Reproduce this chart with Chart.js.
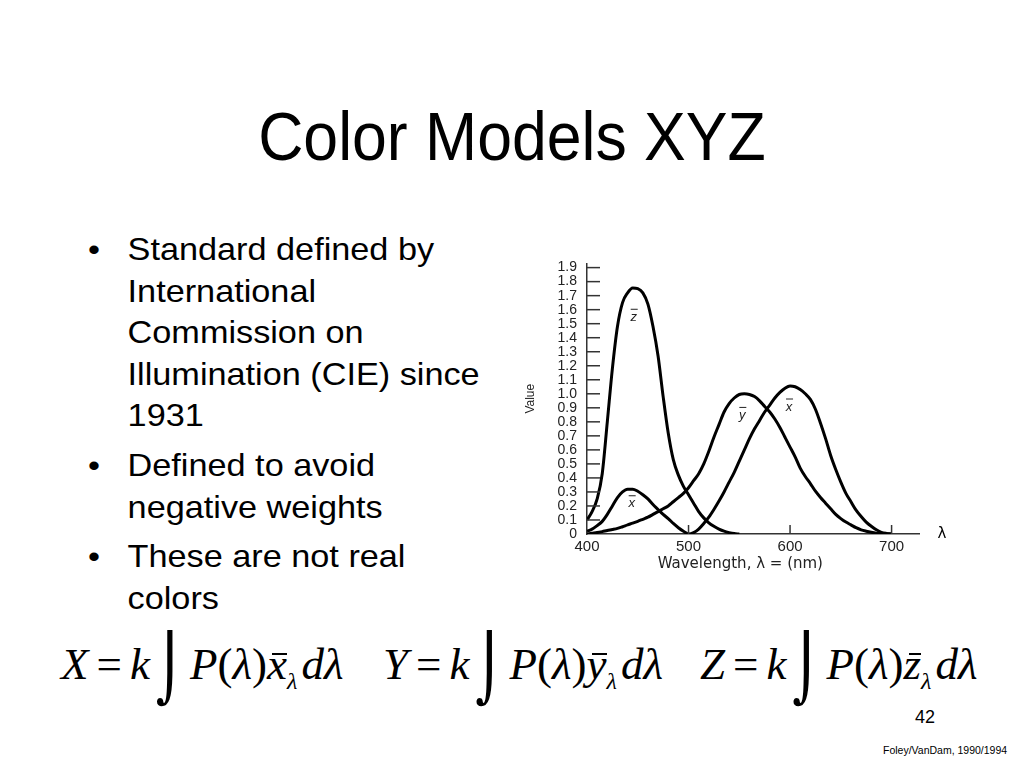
<!DOCTYPE html>
<html>
<head>
<meta charset="utf-8">
<title>Color Models XYZ</title>
<script src="https://cdn.jsdelivr.net/npm/chart.js"></script>
<style>
  body { margin: 0; width: 1024px; height: 768px; background: #fff; position: relative; overflow: hidden;
         font-family: "Liberation Sans", Arial, sans-serif; color: #000; }
  .title { position: absolute; left: 0; top: 102px; width: 1024px; text-align: center;
           font-size: 68px; line-height: 68px; transform: scaleX(0.92); }
  .bullet { position: absolute; left: 88px; font-size: 32px; line-height: 41.5px; white-space: nowrap;
            transform: scaleX(1.07); transform-origin: left top; }
  .bullet .dot { position: absolute; left: 0; top: 0; }
  .bullet .txt { margin-left: 37px; }
  .eq { position: absolute; top: 634px; font-family: "Liberation Serif", "Times New Roman", serif;
        font-size: 45px; line-height: 60px; white-space: nowrap; }
  .eq i { font-style: italic; }
  .eq .op { margin: 0 8px; }
  .eq .int { display: inline-block; font-family: "DejaVu Sans", sans-serif; font-size: 54px;
             transform: scaleY(1.2); margin: 0 6px 0 6px; vertical-align: -8px; }
  .eq .bar { position: relative; font-style: italic; }
  .eq .bar::before { content: ''; position: absolute; left: 5px; right: 0; top: 14px; border-top: 2px solid #000; }
  .eq sub { font-size: 24px; font-style: italic; vertical-align: -10px; margin-right: 4px; }
  .page { position: absolute; left: 915px; top: 707px; font-size: 18px; }
  .credit { position: absolute; left: 883px; top: 744px; font-size: 10.5px; }
  #wrap { position: absolute; left: 515px; top: 245px; width: 445px; height: 340px; }
</style>
</head>
<body>
<div class="title">Color Models XYZ</div>

<div class="bullet" style="top:229px"><span class="dot">•</span><div class="txt">Standard defined by<br>International<br>Commission on<br>Illumination (CIE) since<br>1931</div></div>
<div class="bullet" style="top:445px"><span class="dot">•</span><div class="txt">Defined to avoid<br>negative weights</div></div>
<div class="bullet" style="top:536px"><span class="dot">•</span><div class="txt">These are not real<br>colors</div></div>

<div class="eq" style="left:61px"><i>X</i><span class="op">=</span><i>k</i><span class="int">⌡</span><i>P</i>(<i>λ</i>)<span class="bar">x</span><sub>λ</sub><i>d</i><i>λ</i></div>
<div class="eq" style="left:383px"><i>Y</i><span class="op">=</span><i>k</i><span class="int">⌡</span><i>P</i>(<i>λ</i>)<span class="bar">y</span><sub>λ</sub><i>d</i><i>λ</i></div>
<div class="eq" style="left:700px"><i>Z</i><span class="op">=</span><i>k</i><span class="int">⌡</span><i>P</i>(<i>λ</i>)<span class="bar">z</span><sub>λ</sub><i>d</i><i>λ</i></div>

<div class="page">42</div>
<div class="credit">Foley/VanDam, 1990/1994</div>

<div id="wrap"><canvas id="chart"></canvas></div>

<script>
// wavelength samples (nm), 5 nm apart
const wavelengths = [
  400, 405, 410, 415, 420, 425, 430, 435, 440, 445, 450, 455, 460, 465, 470, 475, 480, 485, 490, 495,
  500, 505, 510, 515, 520, 525, 530, 535, 540, 545, 550, 555, 560, 565, 570, 575, 580, 585, 590, 595,
  600, 605, 610, 615, 620, 625, 630, 635, 640, 645, 650, 655, 660, 665, 670, 675, 680, 685, 690, 695, 700
];

const xBar = [
  0.02, 0.035, 0.06, 0.09, 0.14, 0.20, 0.26, 0.30, 0.32, 0.32, 0.305, 0.28, 0.25, 0.21, 0.175, 0.14, 0.11, 0.075, 0.045, 0.02,
  0, 0.01, 0.035, 0.075, 0.12, 0.175, 0.235, 0.30, 0.37, 0.44, 0.52, 0.60, 0.68, 0.75, 0.81, 0.87, 0.92, 0.97, 1.01, 1.04,
  1.056, 1.05, 1.03, 1.0, 0.96, 0.89, 0.79, 0.68, 0.56, 0.46, 0.37, 0.29, 0.23, 0.17, 0.125, 0.085, 0.055, 0.03, 0.012, 0.004, 0
];

const yBar = [
  0, 0.005, 0.01, 0.017, 0.025, 0.032, 0.04, 0.052, 0.065, 0.077, 0.09, 0.105, 0.12, 0.14, 0.16, 0.18, 0.20, 0.23, 0.26, 0.29,
  0.33, 0.38, 0.43, 0.50, 0.59, 0.69, 0.78, 0.87, 0.93, 0.97, 0.995, 1.0, 0.995, 0.98, 0.95, 0.91, 0.87, 0.82, 0.76, 0.69,
  0.62, 0.55, 0.47, 0.41, 0.36, 0.305, 0.26, 0.22, 0.18, 0.14, 0.11, 0.085, 0.065, 0.045, 0.03, 0.02, 0.012, 0.006, 0.003, 0.001, 0
];

// z stops at about 550 nm
const zBar = [
  0.10, 0.16, 0.25, 0.43, 0.80, 1.18, 1.48, 1.65, 1.72, 1.755, 1.75, 1.72, 1.64, 1.48, 1.27, 0.98, 0.72, 0.53, 0.42, 0.34,
  0.28, 0.22, 0.16, 0.115, 0.08, 0.055, 0.035, 0.02, 0.01, 0.003, 0, null, null, null, null, null, null, null, null, null,
  null, null, null, null, null, null, null, null, null, null, null, null, null, null, null, null, null, null, null, null, null
];

const xTickValues = [400, 500, 600, 700];

const toPoints = (vals) =>
  wavelengths.map((w, i) => ({ x: w, y: vals[i] })).filter((p) => p.y !== null);

const curveStyle = {
  borderColor: '#000',
  borderWidth: 3,
  pointRadius: 0,
  fill: false,
  cubicInterpolationMode: 'monotone',
};

// little tick marks drawn inside the plot, the curve names, the lambda and the x title
const slideMarks = {
  id: 'slideMarks',
  afterDraw(chart) {
    const { ctx, chartArea } = chart;
    const xs = chart.scales.x;
    const ys = chart.scales.y;
    ctx.save();
    ctx.strokeStyle = '#333';
    ctx.lineWidth = 1.5;
    ys.ticks.forEach((t) => {
      if (t.value === 0) return;
      const py = ys.getPixelForValue(t.value);
      ctx.beginPath();
      ctx.moveTo(chartArea.left, py);
      ctx.lineTo(chartArea.left + 13, py);
      ctx.stroke();
    });
    xTickValues.slice(1).forEach((v) => {
      const px = xs.getPixelForValue(v);
      ctx.beginPath();
      ctx.moveTo(px, chartArea.bottom);
      ctx.lineTo(px, chartArea.bottom - 9);
      ctx.stroke();
    });

    const names = [
      ['z', 446, 1.56],
      ['x', 444, 0.23],
      ['y', 553, 0.86],
      ['x', 599, 0.92],
    ];
    ctx.fillStyle = '#222';
    ctx.strokeStyle = '#222';
    ctx.lineWidth = 1;
    ctx.font = 'italic 13px "Liberation Sans", Arial';
    ctx.textAlign = 'center';
    ctx.textBaseline = 'middle';
    names.forEach(([t, w, v]) => {
      const px = xs.getPixelForValue(w);
      const py = ys.getPixelForValue(v);
      ctx.fillText(t, px, py + 2);
      ctx.beginPath();
      ctx.moveTo(px - 3, py - 6);
      ctx.lineTo(px + 4, py - 6);
      ctx.stroke();
    });

    ctx.fillStyle = '#000';
    ctx.font = '15px "DejaVu Sans", sans-serif';
    ctx.fillText('λ', chartArea.right + 23, ys.getPixelForValue(0));
    ctx.fillStyle = '#222';
    ctx.fillText('Wavelength, λ = (nm)', xs.getPixelForValue(551), chartArea.bottom + 30);
    ctx.restore();
  },
};

new Chart(document.getElementById('chart'), {
  type: 'line',
  data: {
    datasets: [
      { label: 'x', data: toPoints(xBar), ...curveStyle },
      { label: 'y', data: toPoints(yBar), ...curveStyle },
      { label: 'z', data: toPoints(zBar), ...curveStyle },
    ],
  },
  options: {
    responsive: true,
    maintainAspectRatio: false,
    animation: false,
    layout: { padding: { top: 10, right: 41, left: 0, bottom: 0 } },
    plugins: { legend: { display: false }, tooltip: { enabled: false } },
    scales: {
      x: {
        type: 'linear',
        min: 400,
        max: 727,
        afterFit: (s) => { s.height = 51; },
        grid: { display: false, drawTicks: false },
        border: { display: true, color: '#333', width: 1.5 },
        ticks: {
          stepSize: 100,
          includeBounds: false,
          autoSkip: false,
          padding: 4,
          color: '#222',
          font: { family: '"Liberation Sans", Arial', size: 15 },
          maxRotation: 0,
        },
      },
      y: {
        min: 0,
        max: 1.93,
        afterFit: (s) => { s.width = 72; },
        grid: { display: false, drawTicks: false },
        border: { display: true, color: '#333', width: 1.5 },
        ticks: {
          stepSize: 0.1,
          includeBounds: false,
          autoSkip: false,
          padding: 10,
          color: '#222',
          font: { family: '"Liberation Sans", Arial', size: 14 },
          callback: (v) => (v === 0 ? '0' : v.toFixed(1)),
        },
        title: {
          display: true,
          text: 'Value',
          color: '#222',
          font: { family: '"Liberation Sans", Arial', size: 12 },
          padding: { top: 8, bottom: 0 },
        },
      },
    },
  },
  plugins: [slideMarks],
});
</script>
</body>
</html>
